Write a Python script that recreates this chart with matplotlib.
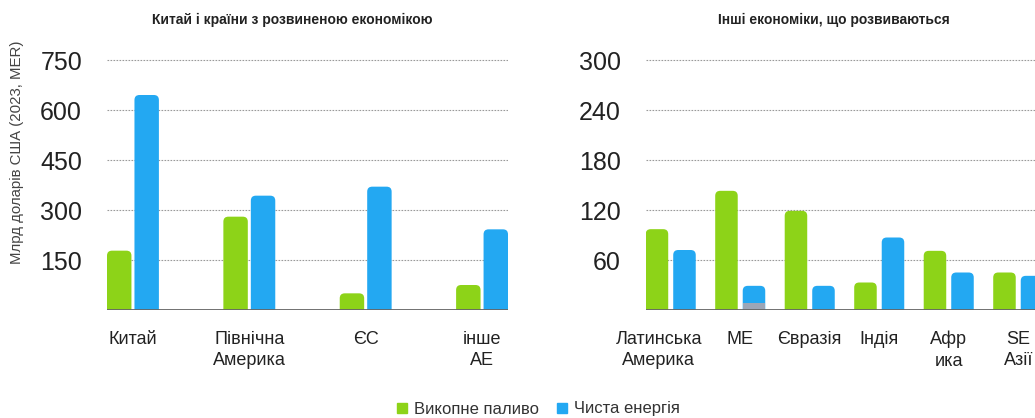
import matplotlib.pyplot as plt
from matplotlib.patches import FancyBboxPatch
from matplotlib.lines import Line2D
from matplotlib.transforms import ScaledTranslation

plt.rcParams['font.family'] = ['Liberation Sans', 'DejaVu Sans']

# Advanced economies and China
adv_regions = ["Китай", "Північна\nАмерика", "ЄС", "інше\nAE"]
adv_fossil = [178, 280, 50, 75]
adv_clean = [645, 343, 370, 242]

# Other emerging economies
emd_regions = ["Латинська\nАмерика", "ME", "Євразія", "Індія", "Афр\nика", "SE\nАзії"]
emd_fossil = [97, 143, 119, 33, 71, 45]
emd_clean = [72, 29, 29, 87, 45, 41]
emd_clean_dark = [0, 9, 0, 0, 0, 0]

GREEN = "#8dd318"
BLUE = "#23a8f2"
GREY = "#9ca6b7"

W, H = 1035, 418
fig = plt.figure(figsize=(W / 100, H / 100), dpi=100)


def round_bars(ax, bars, radius_px):
    # swap the plain rectangles for ones with rounded tops
    x0, x1 = ax.get_xlim()
    y0, y1 = ax.get_ylim()
    bb = ax.get_position()
    xu = (x1 - x0) / (bb.width * W)
    yu = (y1 - y0) / (bb.height * H)
    rx = radius_px * xu
    ry = radius_px * yu
    for b in bars:
        x, w, h = b.get_x(), b.get_width(), b.get_height()
        p = FancyBboxPatch((x, -ry), w, h + ry,
                           boxstyle=f"round,pad=0,rounding_size={rx}",
                           mutation_aspect=yu / xu,
                           facecolor=b.get_facecolor(), edgecolor="none",
                           zorder=2)
        b.remove()
        ax.add_patch(p)


def setup(ax, ymax, ticks, labels):
    ax.set_ylim(0, ymax)
    for s in ax.spines.values():
        s.set_visible(False)
    ax.set_yticks(ticks)
    ax.tick_params(axis="y", length=0, labelsize=18, pad=18, labelcolor="#222222")
    ax.set_xticks(range(len(labels)))
    ax.set_xticklabels(labels, fontsize=13, color="#222222", linespacing=1.35)
    ax.tick_params(axis="x", length=0, pad=15)
    for t in ticks:
        ax.axhline(t, color="#9a9a9a", lw=0.8, ls=(0, (1.5, 1.2)), zorder=1)
    ax.axhline(0, color="#666666", lw=1.3, zorder=4)


# left panel
ax1 = fig.add_axes([107 / W, 108 / H, 401 / W, 260 / H])
ax1.set_xlim(-0.223, 3.223)
setup(ax1, 780, [150, 300, 450, 600, 750], adv_regions)
xs = list(range(len(adv_regions)))
b1 = ax1.bar([x - 0.118 for x in xs], adv_fossil, 0.21, color=GREEN)
b2 = ax1.bar([x + 0.118 for x in xs], adv_clean, 0.21, color=BLUE)
round_bars(ax1, list(b1) + list(b2), 5)

# right panel
ax2 = fig.add_axes([645.7 / W, 108 / H, 397 / W, 260 / H])
ax2.set_xlim(-0.36, 5.352)
setup(ax2, 312, [60, 120, 180, 240, 300], emd_regions)
xs = list(range(len(emd_regions)))
b3 = ax2.bar([x - 0.198 for x in xs], emd_fossil, 0.324, color=GREEN)
b4 = ax2.bar([x + 0.198 for x in xs], emd_clean, 0.324, color=BLUE)
round_bars(ax2, list(b3) + list(b4), 5)
ax2.bar([x + 0.198 for x in xs], emd_clean_dark, 0.324, color=GREY, zorder=3)

lab0 = ax2.get_xticklabels()[0]
lab0.set_transform(lab0.get_transform() + ScaledTranslation(-0.12, 0, fig.dpi_scale_trans))

fig.text(292 / W, 1 - 20 / H, "Китай і країни з розвиненою економікою",
         ha="center", va="center", fontsize=10, fontweight="bold", color="#222222")
fig.text(834 / W, 1 - 20 / H, "Інші економіки, що розвиваються",
         ha="center", va="center", fontsize=10, fontweight="bold", color="#222222")
fig.text(17 / W, 1 - 152 / H, "Млрд доларів США (2023, MER)", rotation=90,
         ha="center", va="center", fontsize=10.8, color="#444444")

handles = [
    Line2D([], [], marker="s", ls="none", color=GREEN, markersize=6.5),
    Line2D([], [], marker="s", ls="none", color=BLUE, markersize=6.5),
]
fig.legend(handles, ["Викопне паливо", "Чиста енергія"], loc="center",
           bbox_to_anchor=(537 / W, 9 / H), ncol=2, frameon=False,
           fontsize=12, handlelength=1.0, handletextpad=0.2, columnspacing=0.9,
           labelcolor="#333333")

fig.savefig("out.png", dpi=100)
